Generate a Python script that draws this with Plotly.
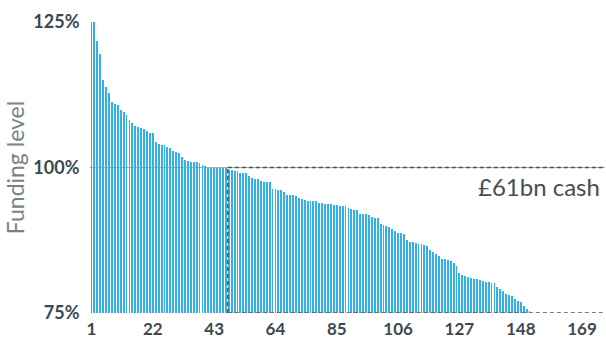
import plotly.graph_objects as go

# Funding level (%) of each scheme, sorted descending
funding = [
    126.0, 125.5, 121.7, 119.5, 115.1, 113.9, 112.8, 111.3, 110.85, 110.7,
    109.8, 109.5, 109.1, 108.2, 107.6, 107.2, 106.9, 106.85, 106.7, 106.2,
    106.0, 106.0, 104.3, 104.1, 103.9, 103.8, 103.5, 103.4, 102.9, 102.6,
    102.55, 101.75, 101.35, 101.2, 100.95, 100.9, 100.9, 100.85, 100.4, 100.2,
    100.0, 100.0, 100.0, 100.0, 100.0, 100.0, 100.0,
    99.54, 99.49, 99.43, 99.43, 99.14, 99.09, 99.03, 98.51, 98.28, 98.11,
    97.94, 97.6, 97.54, 97.54, 97.54, 96.34, 96.23, 96.11, 96.06, 95.71,
    95.31, 95.31, 95.2, 95.08, 94.8, 94.57, 94.34, 94.28, 94.23, 94.17,
    94.17, 93.94, 93.83, 93.71, 93.65, 93.65, 93.6, 93.48, 93.43, 93.37,
    93.31, 93.02, 92.91, 92.74, 92.74, 92.05, 91.94, 91.94, 91.77, 91.48,
    91.37, 91.25, 90.28, 90.05, 89.99, 89.82, 89.48, 89.02, 88.79, 88.68,
    88.51, 87.48, 87.19, 87.14, 86.96, 86.85, 86.79, 86.7, 86.5, 85.87,
    85.47, 85.18, 84.73, 84.21, 84.21, 84.15, 83.98, 83.64, 83.07, 81.92,
    81.52, 81.3, 81.18, 81.07, 80.9, 80.78, 80.61, 80.44, 80.38, 80.32,
    80.21, 80.15, 79.41, 79.07, 78.72, 78.32, 78.15, 77.92, 77.46, 77.06,
    76.84, 76.26, 75.75, 75.35,
    74.5, 74.5, 74.5, 74.5, 74.5, 74.5, 74.5, 74.5, 74.5, 74.5,
    74.5, 74.5, 74.5, 74.5, 74.5, 74.5, 74.5, 74.5, 74.5, 74.5,
    74.5, 74.5, 74.5, 74.5,
]
scheme_rank = list(range(1, len(funding) + 1))

x_tick_vals = [1, 22, 43, 64, 85, 106, 127, 148, 169]
y_tick_vals = [75, 100, 125]
y_tick_text = ["75%", "100%", "125%"]

threshold = 100
cash_start = 47.7
cash_label = "£61bn cash"

x_range = [0.49, 176.86]
y_range = [75, 125]

TEXT = "#3d4852"
BAR = "#33b1e4"

fig = go.Figure()
fig.add_trace(go.Bar(
    x=scheme_rank, y=funding, width=0.3,
    marker=dict(color=BAR, line=dict(width=0)),
    hoverinfo="skip",
))

dash_line = dict(color="#4d5257", width=1.5, dash="4px,3px")
fig.add_shape(type="line", xref="x", yref="y", x0=cash_start, x1=x_range[1],
              y0=threshold, y1=threshold, line=dash_line, layer="above")
fig.add_shape(type="line", xref="x", yref="y", x0=cash_start, x1=cash_start,
              y0=y_range[0], y1=threshold, line=dash_line, layer="above")
fig.add_shape(type="line", xref="x", yref="y", x0=cash_start, x1=x_range[1],
              y0=y_range[0], y1=y_range[0], line=dash_line, layer="above")

fig.add_annotation(x=1, xref="paper", xanchor="right", y=96.8, yref="y",
                   yanchor="middle", text=cash_label, showarrow=False,
                   font=dict(family="Lato", size=24, color="#474d53"),
                   xshift=-3)

fig.update_layout(
    width=606, height=339,
    margin=dict(l=90, r=1, t=21.5, b=26.3, autoexpand=False),
    paper_bgcolor="white", plot_bgcolor="white",
    showlegend=False, bargap=0,
    font=dict(family="Lato"),
    xaxis=dict(range=x_range, tickvals=x_tick_vals, showgrid=False,
               zeroline=False, showline=False, automargin=False,
               ticks="outside", ticklen=1, tickcolor="rgba(0,0,0,0)",
               tickfont=dict(family="Lato", size=17, color=TEXT, weight="bold")),
    yaxis=dict(range=y_range, tickvals=y_tick_vals, ticktext=y_tick_text,
               showgrid=True, gridcolor="#a9aeb3", gridwidth=1,
               zeroline=False, showline=False, automargin=False,
               ticks="outside", ticklen=6, tickcolor="rgba(0,0,0,0)",
               tickfont=dict(family="Lato", size=18, color=TEXT, weight="bold"),
               title=dict(text="Funding level", standoff=2,
                          font=dict(family="Lato", size=23, color="#7b8086"))),
)

fig.write_html("out.html", config={"displayModeBar": False},
               post_script="document.body.style.margin='0';")
